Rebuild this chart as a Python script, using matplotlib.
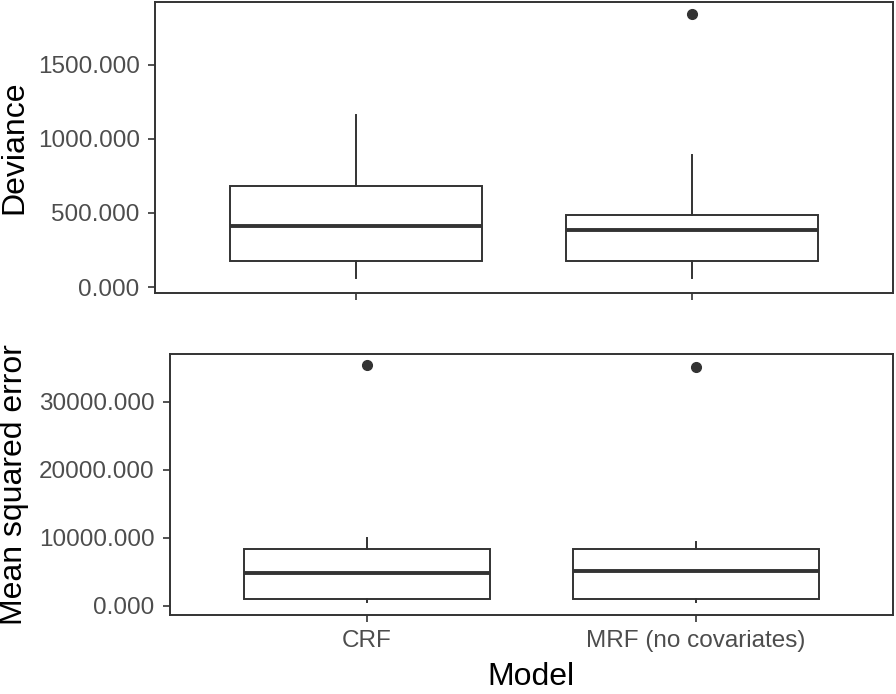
import matplotlib
matplotlib.use("Agg")
import matplotlib.pyplot as plt
from matplotlib.ticker import FormatStrFormatter

plt.rcParams['font.family'] = ['Liberation Sans', 'DejaVu Sans']

models = ["CRF", "MRF (no covariates)"]

# Deviance five-number summaries
dev_whislo = [60, 60]
dev_q1 = [175, 175]
dev_med = [410, 383]
dev_q3 = [679, 484]
dev_whishi = [1163, 894]
dev_fliers = [[], [1843]]

# Mean squared error summaries
mse_whislo = [630, 630]
mse_q1 = [985, 985]
mse_med = [4890, 5185]
mse_q3 = [8325, 8325]
mse_whishi = [9940, 9440]
mse_fliers = [[35390], [35095]]

dev_ticks = [0, 500, 1000, 1500]
mse_ticks = [0, 10000, 20000, 30000]

LINE = '#333333'
TICKTXT = '#4d4d4d'


def make_stats(whislo, q1, med, q3, whishi, fliers):
    stats = []
    for i in range(len(med)):
        stats.append(dict(whislo=whislo[i], q1=q1[i], med=med[i], q3=q3[i],
                          whishi=whishi[i], fliers=fliers[i]))
    return stats


def draw_panel(ax, stats, ticks, ylim, ylabel, label_y):
    ax.bxp(stats, positions=[1, 2], widths=0.75, showcaps=False,
           patch_artist=True,
           boxprops=dict(facecolor='white', edgecolor=LINE, linewidth=1.4),
           whiskerprops=dict(color=LINE, linewidth=1.4),
           medianprops=dict(color=LINE, linewidth=2.8),
           flierprops=dict(marker='o', markerfacecolor=LINE, markeredgecolor=LINE,
                           markersize=7))
    ax.set_xlim(0.4, 2.6)
    ax.set_ylim(*ylim)
    ax.set_yticks(ticks)
    ax.yaxis.set_major_formatter(FormatStrFormatter('%.3f'))
    for s in ax.spines.values():
        s.set_color(LINE)
        s.set_linewidth(1.4)
    ax.tick_params(axis='both', direction='out', length=5, width=1.2,
                   color=LINE, labelcolor=TICKTXT, labelsize=17.5, pad=6)
    ax.set_ylabel(ylabel, fontsize=23, color='black', va='center')
    ax.yaxis.set_label_coords(14 / 896, label_y, transform=ax.figure.transFigure)


fig = plt.figure(figsize=(8.96, 6.94), dpi=100)
ax1 = fig.add_axes([155 / 896, 1 - 293 / 694, 738 / 896, 291 / 694])
ax2 = fig.add_axes([170 / 896, 1 - 615 / 694, 723 / 896, 261 / 694])

draw_panel(ax1, make_stats(dev_whislo, dev_q1, dev_med, dev_q3, dev_whishi, dev_fliers),
           dev_ticks, (-40, 1923), "Deviance", 1 - 147.5 / 694)
draw_panel(ax2, make_stats(mse_whislo, mse_q1, mse_med, mse_q3, mse_whishi, mse_fliers),
           mse_ticks, (-1322, 37004), "Mean squared error", 1 - 484.5 / 694)

ax1.set_xticks([1, 2])
ax1.set_xticklabels([])
ax2.set_xticks([1, 2])
ax2.set_xticklabels(models)
ax2.set_xlabel("Model", fontsize=23, color='black')
ax2.xaxis.set_label_coords(531 / 896, 1 - 662 / 694, transform=fig.transFigure)

fig.savefig("out.png", dpi=100, facecolor='white')
